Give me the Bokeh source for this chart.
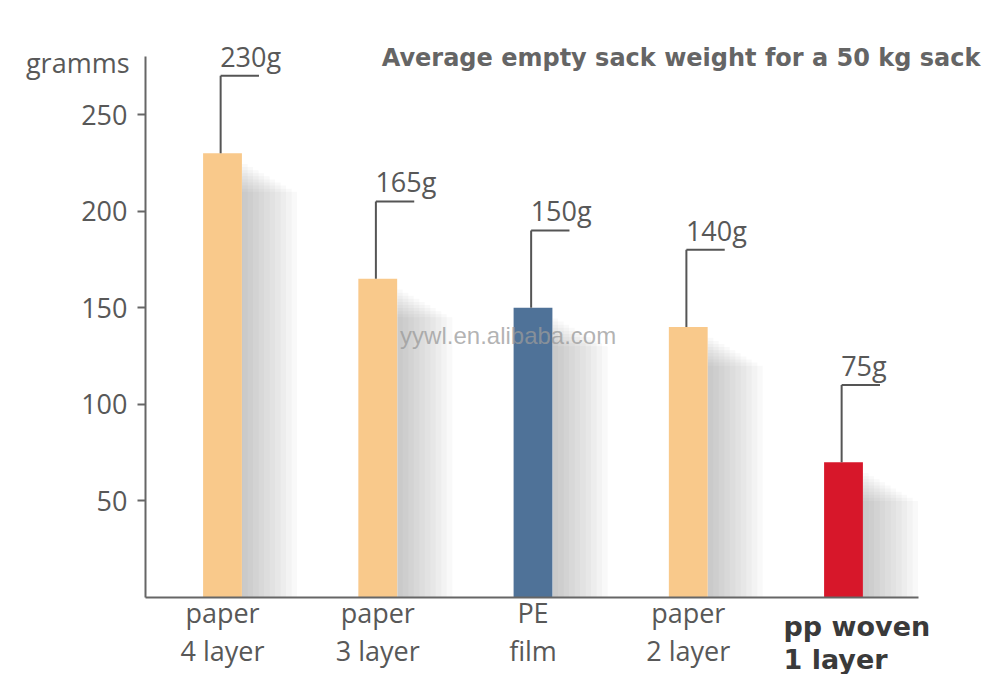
from bokeh.plotting import figure
from bokeh.models import ColumnDataSource, FixedTicker, Label, LabelSet, Range1d
from bokeh.core.properties import value
from bokeh.transform import dodge
from bokeh.embed import file_html
from bokeh.resources import INLINE

# ---- data ----
categories = ["paper\n4 layer", "paper\n3 layer", "PE\nfilm", "paper\n2 layer", "pp woven\n1 layer"]
weights = [230, 165, 150, 140, 70]
value_labels = ["230g", "165g", "150g", "140g", "75g"]
bar_colors = ["#F9C98B", "#F9C98B", "#4F7298", "#F9C98B", "#D7172A"]
y_ticks = [50, 100, 150, 200, 250]
title_text = "Average empty sack weight for a 50 kg sack"
y_unit_text = "gramms"
highlight_index = 4
highlight_label = ["pp woven", "1 layer"]
watermark = "yywl.en.alibaba.com"

LEADER = 40  # leader line length in value units
xpos = list(range(len(categories)))

src = ColumnDataSource(dict(
    x=xpos,
    weight=weights,
    color=bar_colors,
    lead_top=[w + LEADER for w in weights],
    label_y=[w + LEADER + 4.7 for w in weights],
    label=value_labels,
))

GRAY = "#585858"
FONT = "Open Sans"

W, H = 1000, 674
PX_X = 155.25   # px per category
PX_Y = 1.932    # px per gram
X0_PAGE = 222   # page x of first category
Y0_PAGE = 597   # page y of zero

p = figure(
    x_range=Range1d(-X0_PAGE / PX_X, (W - X0_PAGE) / PX_X),
    y_range=Range1d(-(H - Y0_PAGE) / PX_Y, Y0_PAGE / PX_Y),
    width=W, height=H,
    output_backend="svg", toolbar_location=None,
    min_border=0,
)
p.outline_line_color = None
p.xgrid.visible = False
p.ygrid.visible = False
p.background_fill_color = "white"
p.border_fill_color = "white"

# shadows (soft gray gradient to the right of each bar)
for k in range(1, 11):
    wpx = 5.5 * k
    off = 0.126 + (wpx / PX_X) / 2
    src.data[f"sh{k}"] = [w - 4 - 1.6 * k for w in weights]
    p.vbar(x=dodge("x", off), top=f"sh{k}", bottom=0,
           width=wpx / PX_X, source=src, fill_color="#7a7a7a", fill_alpha=0.045,
           line_color=None)

# bars
p.vbar(x="x", top="weight", bottom=0, width=0.25, source=src,
       fill_color="color", line_color=None)

# leader lines
p.segment(x0=dodge("x", -0.012), y0="weight", x1=dodge("x", -0.012), y1="lead_top",
          source=src, line_color="#555555", line_width=2)
p.segment(x0=dodge("x", -0.012), y0="lead_top", x1=dodge("x", 0.235), y1="lead_top",
          source=src, line_color="#555555", line_width=2)

# value labels
labels = LabelSet(x=dodge("x", -0.015), y="label_y", text="label",
                  source=src, text_font=value(FONT), text_font_size="27px",
                  text_color=GRAY, text_align="left", text_baseline="alphabetic")
p.add_layout(labels)

# axes (drawn at fixed data locations inside the frame)
p.yaxis.fixed_location = -0.496
p.yaxis.ticker = FixedTicker(ticks=y_ticks)
p.yaxis.bounds = (0, 280)
p.yaxis.minor_tick_line_color = None
p.yaxis.major_tick_in = 0
p.yaxis.major_tick_out = 8
p.yaxis.major_tick_line_width = 2
p.yaxis.major_tick_line_color = "#666666"
p.yaxis.axis_line_width = 2
p.yaxis.axis_line_color = "#666666"
p.yaxis.major_label_standoff = 10
p.yaxis.major_label_text_font = FONT
p.yaxis.major_label_text_font_size = "27px"
p.yaxis.major_label_text_color = GRAY

p.xaxis.fixed_location = 0
p.xaxis.ticker = FixedTicker(ticks=xpos)
p.xaxis.bounds = (-0.496, 4.48)
p.xaxis.major_label_overrides = {
    i: ("" if i == highlight_index else c) for i, c in zip(xpos, categories)
}
p.xaxis.major_tick_line_color = None
p.xaxis.minor_tick_line_color = None
p.xaxis.major_tick_in = 0
p.xaxis.major_tick_out = 0
p.xaxis.axis_line_width = 2
p.xaxis.axis_line_color = "#666666"
p.xaxis.major_label_standoff = -4
p.xaxis.major_label_text_font = FONT
p.xaxis.major_label_text_font_size = "27px"
p.xaxis.major_label_text_color = GRAY
p.xaxis.major_label_text_line_height = 1.05

# highlighted category label (bold, dark)
for line, ypos in zip(highlight_label, [-15.0, -32.3]):
    p.add_layout(Label(x=highlight_index, y=ypos, x_offset=-60, text=line,
                       text_font="DejaVu Sans", text_font_style="bold",
                       text_font_size="27px", text_color="#3a3a3a",
                       text_align="left", text_baseline="alphabetic"))

# title and unit label
p.add_layout(Label(x=(980 - X0_PAGE) / PX_X, y=279.0, text=title_text,
                   text_font="DejaVu Sans", text_font_style="bold",
                   text_font_size="24px", text_color="#656565",
                   text_align="right", text_baseline="alphabetic"))
p.add_layout(Label(x=-0.599, y=276.9, text=y_unit_text, text_font=FONT,
                   text_font_size="27px", text_color=GRAY,
                   text_align="right", text_baseline="alphabetic"))

# watermark
p.add_layout(Label(x=2.0 - 0.16, y=135.5, text=watermark, text_font="Liberation Sans",
                   text_font_size="24px", text_color="#9a9a9a", text_alpha=0.75,
                   text_align="center", text_baseline="middle"))

open("out.html", "w").write(file_html(p, INLINE))
